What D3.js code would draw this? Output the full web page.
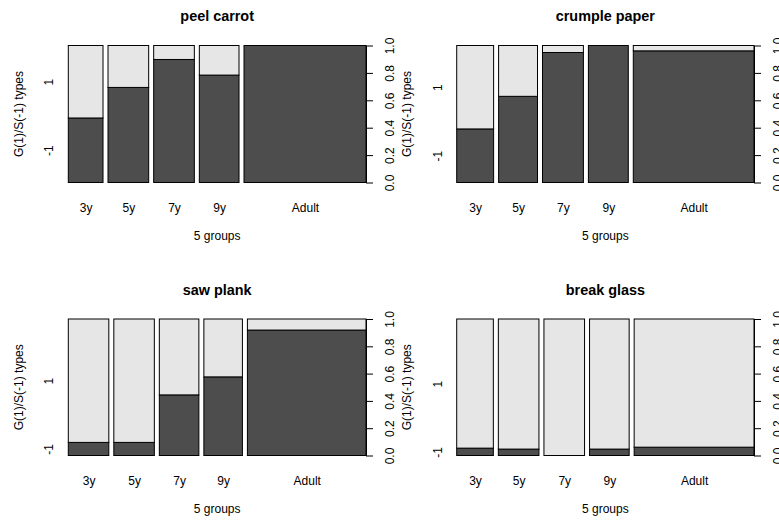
<!DOCTYPE html>
<html>
<head>
<meta charset="utf-8">
<script src="https://cdn.jsdelivr.net/npm/d3@7"></script>
<style>
body { margin: 0; background: #fff; }
svg { display: block; }
text { font-family: "Liberation Sans", Arial, sans-serif; fill: #000; }
</style>
</head>
<body>
<svg id="chart" width="779" height="521"></svg>
<script>
// categories
var groups = ['3y', '5y', '7y', '9y', 'Adult'];
var yLevels = ['-1', '1'];
var titles = ['peel carrot', 'crumple paper', 'saw plank', 'break glass'];
var rightTicks = [0, 0.2, 0.4, 0.6, 0.8, 1.0];

// relative group sizes (bar widths), one list per task
var sizePeel    = [35, 41, 41, 40, 123];
var sizeCrumple = [37, 39, 41, 40, 121];
var sizeSaw     = [41, 41, 40, 39, 120];
var sizeBreak   = [37, 41, 41, 40, 121];

// share of the -1 answer (dark part) per group
var darkPeel    = [0.471, 0.694, 0.898, 0.784, 1.0];
var darkCrumple = [0.391, 0.629, 0.949, 1.0, 0.961];
var darkSaw     = [0.096, 0.096, 0.444, 0.576, 0.919];
var darkBreak   = [0.054, 0.047, 0.0, 0.047, 0.061];

var sizes = [sizePeel, sizeCrumple, sizeSaw, sizeBreak];
var darks = [darkPeel, darkCrumple, darkSaw, darkBreak];

var svg = d3.select('#chart');
var cols = [[68.3, 366], [456.7, 754]];
var rows = [[45.5, 182.5], [319, 455.5]];
var off = 0.018;

titles.forEach(function(title, k){
    drawPanel(title, sizes[k], darks[k], cols[k % 2], rows[Math.floor(k / 2)]);
});

function drawPanel(title, size, dark, xr, yr){
    var L = xr[0], R = xr[1], T = yr[0], B = yr[1];
    var g = svg.append('g');
    var total = d3.sum(size);
    var x = d3.scaleLinear().domain([0, 1 + off * (groups.length - 1)]).range([L, R]);
    var y = d3.scaleLinear().domain([0, 1]).range([B, T]);

    // spine positions
    var acc = 0;
    var bars = groups.map(function(name, i){
        var w = size[i] / total;
        var b = { name: name, x0: acc + i * off, x1: acc + w + i * off, p: dark[i] };
        acc += w;
        return b;
    });

    var segs = [];
    bars.forEach(function(b){
        segs.push({ x0: b.x0, x1: b.x1, y0: 0, y1: b.p, fill: '#4D4D4D' });
        segs.push({ x0: b.x0, x1: b.x1, y0: b.p, y1: 1, fill: '#E6E6E6' });
    });

    g.selectAll('rect.seg').data(segs).enter().append('rect')
        .attr('class', 'seg')
        .attr('x', function(d){ return x(d.x0); })
        .attr('width', function(d){ return x(d.x1) - x(d.x0); })
        .attr('y', function(d){ return y(d.y1); })
        .attr('height', function(d){ return y(d.y0) - y(d.y1); })
        .attr('fill', function(d){ return d.fill; })
        .attr('stroke', '#000').attr('stroke-width', 1);

    // right axis 0..1
    var ra = g.append('g').attr('transform', 'translate(' + R + ',0)')
        .call(d3.axisRight(y).tickValues(rightTicks).tickSize(7).tickSizeOuter(0).tickFormat(d3.format('.1f')));
    ra.selectAll('path, line').attr('stroke', '#000');
    ra.selectAll('text')
        .attr('x', null).attr('dy', null)
        .attr('text-anchor', 'middle')
        .attr('transform', 'translate(27.5,0) rotate(-90)')
        .style('font-size', '12px').style('font-family', '"Liberation Sans", Arial, sans-serif');

    // left axis: level labels at mid of first spine
    var p0 = bars[0].p;
    var la = g.append('g').attr('transform', 'translate(' + L + ',0)')
        .call(d3.axisLeft(y).tickValues([p0 / 2, (1 + p0) / 2]).tickSize(0)
            .tickFormat(function(d, i){ return yLevels[i]; }));
    la.select('.domain').remove();
    la.selectAll('text')
        .attr('x', null).attr('dy', null)
        .attr('text-anchor', 'middle')
        .attr('transform', 'translate(-15,0) rotate(-90)')
        .style('font-size', '12px').style('font-family', '"Liberation Sans", Arial, sans-serif');

    // group labels under spines
    var ba = g.append('g').attr('transform', 'translate(0,' + B + ')')
        .call(d3.axisBottom(x).tickValues(bars.map(function(b){ return (b.x0 + b.x1) / 2; })).tickSize(0)
            .tickFormat(function(d, i){ return groups[i]; }));
    ba.select('.domain').remove();
    ba.selectAll('text')
        .attr('y', 29.5).attr('dy', null)
        .style('font-size', '12px').style('font-family', '"Liberation Sans", Arial, sans-serif');

    g.append('text')
        .attr('x', (L + R) / 2).attr('y', B + 57.5)
        .attr('text-anchor', 'middle').style('font-size', '12px')
        .text('5 groups');

    g.append('text')
        .attr('transform', 'translate(' + (L - 45.8) + ',' + ((T + B) / 2) + ') rotate(-90)')
        .attr('text-anchor', 'middle').style('font-size', '12px')
        .text('G(1)/S(-1) types');

    g.append('text')
        .attr('x', (L + R) / 2).attr('y', T - 24.5)
        .attr('text-anchor', 'middle')
        .style('font-size', '14.4px').style('font-weight', 'bold')
        .text(title);
}
</script>
</body>
</html>
